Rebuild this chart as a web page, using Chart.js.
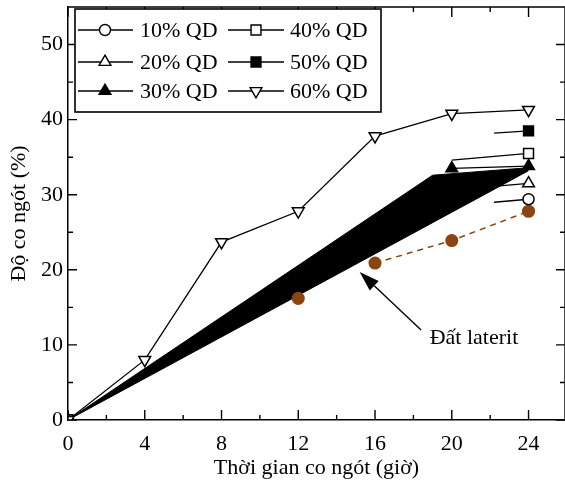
<!DOCTYPE html>
<html>
<head>
<meta charset="utf-8">
<script src="https://cdn.jsdelivr.net/npm/chart.js@4.4.0/dist/chart.umd.min.js"></script>
<style>
  html, body { margin: 0; padding: 0; background: #fff; }
</style>
</head>
<body>
<canvas id="myChart" width="565" height="485"></canvas>
<script>
// --- data ---
var hours = [0, 4, 8, 12, 16, 20, 24];
var qd10 = [0, null, null, null, null, null, 29.4];
var qd20 = [0, null, null, null, null, null, 31.5];
var qd30 = [0, null, null, null, null, 33.5, 33.8];
var qd40 = [0, null, null, null, null, 34.6, 35.5];
var qd50 = [0, null, null, null, null, null, 38.5];
var qd60 = [0, 8.0, 23.7, 27.8, 37.8, 40.8, 41.3];
var laterite = [null, null, null, 16.2, 20.9, 23.9, 27.8];
// short visible tails of the 10/20/50 % lines (start hour, value)
var tailHour = 22.2;
var tail10 = 29.0, tail20 = 31.1, tail50 = 38.2;
// black band
var bandTopX = [0, 19, 24], bandTopY = [0, 32.6, 33.6];
var bandBotX = [0, 24], bandBotY = [0, 33.2];

var xTicks = [0, 4, 8, 12, 16, 20, 24];
var yTicks = [0, 10, 20, 30, 40, 50];
var labels = ['10% QD', '20% QD', '30% QD', '40% QD', '50% QD', '60% QD'];
var noteText = 'Đất laterit';

var FONT = 'Liberation Serif, Times New Roman, serif';
var brown = '#8b4513';

function pts(xs, ys) {
  return xs.map(function (x, i) { return { x: x, y: ys[i] }; });
}
function withTail(ys, tail) {
  var p = pts(hours, ys);
  p.splice(p.length - 1, 0, { x: tailHour, y: tail });
  return p;
}
function radii(data, r, hide) {
  return data.map(function (d) { return (d.y === null || hide(d)) ? 0 : r; });
}

var d10 = withTail(qd10, tail10), d20 = withTail(qd20, tail20), d50 = withTail(qd50, tail50);
var d30 = pts(hours, qd30), d40 = pts(hours, qd40), d60 = pts(hours, qd60);
var dLat = pts(hours, laterite);
var isTail = function (d) { return d.x === tailHour; };
var none = function () { return false; };

var base = { borderColor: '#000', borderWidth: 1.3, tension: 0, pointBorderColor: '#000', pointBorderWidth: 1.5, fill: false, spanGaps: false };

var series = [
  Object.assign({}, base, { label: labels[0], data: d10, pointStyle: 'circle', pointRadius: radii(d10, 5.5, isTail), pointBackgroundColor: '#fff', order: 3 }),
  Object.assign({}, base, { label: labels[1], data: d20, pointStyle: 'triangle', pointRadius: radii(d20, 6.8, isTail), pointBackgroundColor: '#fff', order: 4 }),
  Object.assign({}, base, { label: labels[2], data: d30, pointStyle: 'triangle', pointRadius: radii(d30, 6.8, none), pointBackgroundColor: '#000', order: 5 }),
  Object.assign({}, base, { label: labels[3], data: d40, pointStyle: 'rect', pointRadius: radii(d40, 7, function (d) { return d.x === 20; }), pointBackgroundColor: '#fff', order: 2 }),
  Object.assign({}, base, { label: labels[4], data: d50, pointStyle: 'rect', pointRadius: radii(d50, 7, isTail), pointBackgroundColor: '#000', order: 6 }),
  Object.assign({}, base, { label: labels[5], data: d60, pointStyle: 'triangle', pointRotation: 180, pointRadius: radii(d60, 6.8, none), pointBackgroundColor: '#fff', order: 1 })
];

var datasets = series.concat([
  { label: 'laterit', data: dLat, borderColor: brown, borderWidth: 1.5, borderDash: [6, 5], pointStyle: 'circle',
    pointRadius: 5.8, pointBackgroundColor: brown, pointBorderColor: brown, fill: false, tension: 0, order: 7,
    segment: { borderColor: function (c) { return c.p0DataIndex === 3 ? 'rgba(0,0,0,0)' : undefined; } } },
  { label: 'band', data: pts(bandTopX, bandTopY), borderColor: '#000', borderWidth: 1, backgroundColor: '#000',
    fill: '+1', pointRadius: 0, tension: 0, order: 8 },
  { label: 'band2', data: pts(bandBotX, bandBotY), borderColor: '#000', borderWidth: 1, pointRadius: 0,
    fill: false, tension: 0, order: 9 }
]);

function marker(ctx, style, x, y, r, fillCol, rot) {
  ctx.beginPath();
  if (style === 'circle') {
    ctx.arc(x, y, r, 0, Math.PI * 2);
  } else if (style === 'rect') {
    var s = r * Math.SQRT1_2;
    ctx.rect(x - s, y - s, 2 * s, 2 * s);
  } else {
    var a = rot ? Math.PI : 0;
    for (var k = 0; k < 3; k++) {
      var px = x + Math.sin(a) * r, py = y - Math.cos(a) * r;
      if (k === 0) ctx.moveTo(px, py); else ctx.lineTo(px, py);
      a += Math.PI * 2 / 3;
    }
    ctx.closePath();
  }
  ctx.fillStyle = fillCol;
  ctx.fill();
  ctx.stroke();
}

var frameTicks = {
  id: 'frameTicks',
  afterDatasetsDraw: function (chart) {
    var ctx = chart.ctx, a = chart.chartArea, x = chart.scales.x, y = chart.scales.y;
    ctx.save();
    ctx.strokeStyle = '#000';
    ctx.lineWidth = 1.4;
    ctx.beginPath();
    ctx.moveTo(a.left, a.top); ctx.lineTo(a.right, a.top); ctx.lineTo(a.right, a.bottom);
    for (var v = 0; v <= 26; v += 2) {
      var px = x.getPixelForValue(v), len = v % 4 === 0 ? 10 : 5;
      ctx.moveTo(px, a.bottom); ctx.lineTo(px, a.bottom - len);
      ctx.moveTo(px, a.top); ctx.lineTo(px, a.top + len);
    }
    for (var w = 0; w <= 55; w += 5) {
      var py = y.getPixelForValue(w), l2 = w % 10 === 0 ? 9 : 5;
      ctx.moveTo(a.left, py); ctx.lineTo(a.left + l2, py);
      ctx.moveTo(a.right, py); ctx.lineTo(a.right - l2, py);
    }
    ctx.stroke();

    // annotation arrow
    var tx = x.getPixelForValue(15.2), ty = y.getPixelForValue(19.7);
    var sx = x.getPixelForValue(18.4), sy = y.getPixelForValue(12.0);
    var ang = Math.atan2(ty - sy, tx - sx);
    var hl = 20, hw = 6.5;
    var bx = tx - Math.cos(ang) * hl, by = ty - Math.sin(ang) * hl;
    ctx.beginPath();
    ctx.moveTo(sx, sy); ctx.lineTo(bx, by);
    ctx.stroke();
    ctx.beginPath();
    ctx.moveTo(tx, ty);
    ctx.lineTo(bx + Math.sin(ang) * hw, by - Math.cos(ang) * hw);
    ctx.lineTo(bx - Math.sin(ang) * hw, by + Math.cos(ang) * hw);
    ctx.closePath();
    ctx.fillStyle = '#000';
    ctx.fill();
    ctx.font = '22px ' + FONT;
    ctx.textBaseline = 'middle';
    ctx.textAlign = 'left';
    ctx.fillText(noteText, x.getPixelForValue(18.85), y.getPixelForValue(10.9));
    ctx.restore();
  }
};

var boxLegend = {
  id: 'boxLegend',
  afterDraw: function (chart) {
    var ctx = chart.ctx;
    ctx.save();
    ctx.fillStyle = '#fff';
    ctx.fillRect(75, 9, 306, 103);
    ctx.strokeStyle = '#000';
    ctx.lineWidth = 1.6;
    ctx.strokeRect(75, 9, 306, 103);
    var rows = [30, 62, 91];
    var cols = [{ l: 78, r: 133, m: 105, t: 140 }, { l: 228, r: 284, m: 256, t: 290 }];
    ctx.font = '22px ' + FONT;
    ctx.textBaseline = 'middle';
    ctx.textAlign = 'left';
    series.forEach(function (ds, i) {
      var c = cols[Math.floor(i / 3)], yy = rows[i % 3];
      ctx.lineWidth = 1.4;
      ctx.strokeStyle = '#000';
      ctx.beginPath(); ctx.moveTo(c.l, yy); ctx.lineTo(c.r, yy); ctx.stroke();
      var r = ds.pointStyle === 'circle' ? 5.5 : (ds.pointStyle === 'rect' ? 7 : 6.8);
      marker(ctx, ds.pointStyle, c.m, yy, r, ds.pointBackgroundColor, ds.pointRotation === 180);
      ctx.fillStyle = '#000';
      ctx.fillText(ds.label, c.t, yy + 1);
    });
    ctx.restore();
  }
};

function noPad(s) {
  s.paddingTop = 0; s.paddingBottom = 0; s.paddingLeft = 0; s.paddingRight = 0;
}

var ctx = document.getElementById('myChart').getContext('2d');
var myChart = new Chart(ctx, {
  type: 'line',
  data: { datasets: datasets },
  options: {
    responsive: false,
    animation: false,
    devicePixelRatio: 1,
    layout: { autoPadding: false, padding: { top: 7, right: 0, left: 0, bottom: 0 } },
    plugins: { legend: { display: false }, tooltip: { enabled: false } },
    scales: {
      x: {
        type: 'linear', min: 0, max: 25.9,
        afterBuildTicks: function (s) { s.ticks = xTicks.map(function (v) { return { value: v }; }); },
        afterFit: function (s) { s.height = 65; noPad(s); },
        grid: { display: false, drawTicks: false },
        border: { display: true, color: '#000', width: 1.5 },
        ticks: { color: '#000', font: { family: FONT, size: 22 }, padding: 11, maxRotation: 0, autoSkip: false },
        title: { display: true, text: 'Thời gian co ngót (giờ)', color: '#000', font: { family: FONT, size: 22 }, padding: { top: 0, bottom: 4 } }
      },
      y: {
        type: 'linear', min: 0, max: 55,
        afterBuildTicks: function (s) { s.ticks = yTicks.map(function (v) { return { value: v }; }); },
        afterFit: function (s) { s.width = 68; noPad(s); },
        grid: { display: false, drawTicks: false },
        border: { display: true, color: '#000', width: 1.5 },
        ticks: { color: '#000', font: { family: FONT, size: 22 }, padding: 5 },
        title: { display: true, text: 'Độ co ngót (%)', color: '#000', font: { family: FONT, size: 22 }, padding: { top: 6, bottom: 0 } }
      }
    }
  },
  plugins: [frameTicks, boxLegend]
});
</script>
</body>
</html>
